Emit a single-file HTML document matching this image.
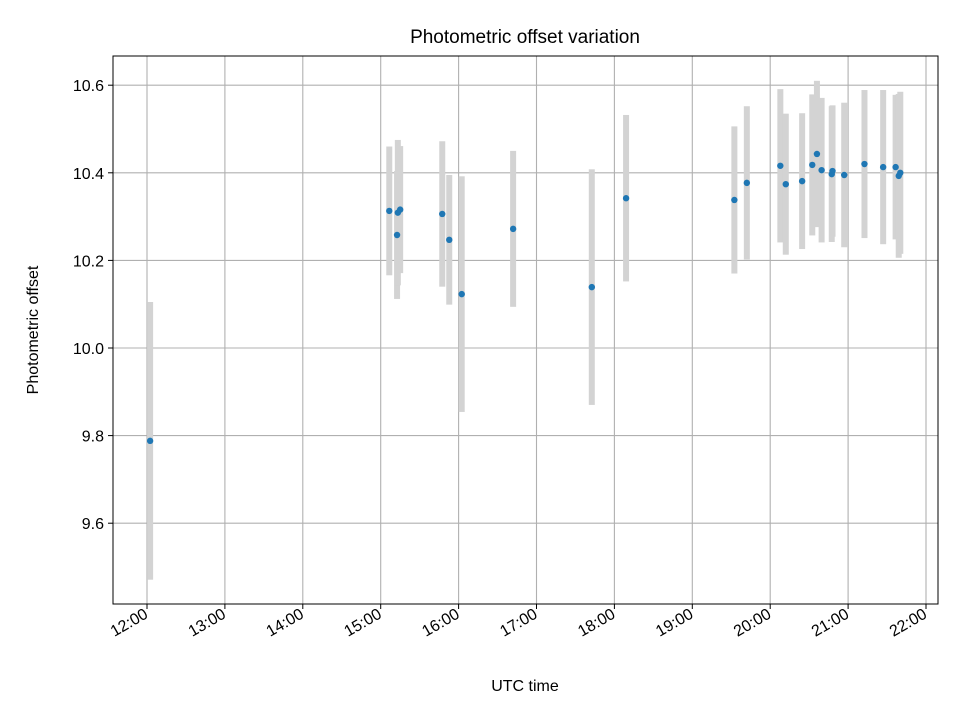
<!DOCTYPE html>
<html><head><meta charset="utf-8"><style>body{margin:0;background:#fff}svg{display:block;font-family:"Liberation Sans","DejaVu Sans",sans-serif}</style></head>
<body>
<svg id="chart" width="960" height="720" viewBox="0 0 960 720"></svg>
<script>
const times=[12.04,15.11,15.21,15.22,15.25,15.79,15.88,16.04,16.70,17.71,18.15,19.54,19.70,20.13,20.20,20.41,20.54,20.60,20.66,20.79,20.80,20.95,21.21,21.45,21.61,21.65,21.67];
const values=[9.788,10.313,10.258,10.309,10.316,10.306,10.247,10.123,10.272,10.139,10.342,10.338,10.377,10.416,10.374,10.381,10.418,10.443,10.406,10.397,10.404,10.395,10.420,10.413,10.413,10.393,10.400];
const errors=[0.317,0.147,0.146,0.166,0.145,0.166,0.148,0.269,0.178,0.269,0.190,0.168,0.175,0.175,0.161,0.155,0.161,0.167,0.165,0.155,0.150,0.165,0.169,0.176,0.165,0.187,0.185];
const yTicks=[9.6,9.8,10.0,10.2,10.4,10.6];
const yTickLabels=["9.6","9.8","10.0","10.2","10.4","10.6"];
const xTicks=[12,13,14,15,16,17,18,19,20,21,22];
const xTickLabels=["12:00","13:00","14:00","15:00","16:00","17:00","18:00","19:00","20:00","21:00","22:00"];
const L=113,R=938,T=56,B=604;
const X=h=>147+(h-12)*77.9;
const Y=v=>348-(v-10)*438;
const svg=document.getElementById('chart');
const NS='http://www.w3.org/2000/svg';
function mk(tag,attrs,parent){const e=document.createElementNS(NS,tag);for(const k in attrs)e.setAttribute(k,attrs[k]);(parent||svg).appendChild(e);return e;}
const grid=mk('g',{});


xTicks.forEach(t=>{mk('line',{x1:X(t),x2:X(t),y1:T,y2:B,stroke:'#b0b0b0','stroke-width':1.1},grid);});
yTicks.forEach(t=>{mk('line',{x1:L,x2:R,y1:Y(t),y2:Y(t),stroke:'#b0b0b0','stroke-width':1.1},grid);});
const eb=mk('g',{});


times.forEach((t,i)=>{const r=mk('rect',{x:X(t)-3,y:Y(values[i]+errors[i]),width:6,height:Y(values[i]-errors[i])-Y(values[i]+errors[i]),fill:'#d3d3d3'},eb);});
const pts=mk('g',{});


times.forEach((t,i)=>{const c=mk('circle',{cx:X(t),cy:Y(values[i]),r:3.2,fill:'#1f77b4'},pts);});
const frame=mk('rect',{x:L,y:T,width:R-L,height:B-T,fill:'none',stroke:'#000','stroke-width':1});


const xa=mk('g',{});


xTicks.forEach((t,i)=>{const x=X(t);mk('line',{x1:x,x2:x,y1:B,y2:B+5,stroke:'#000'},xa);
const ax=x+2,ay=B+13;
const tx=mk('text',{x:ax,y:ay,'font-size':16,'text-anchor':'end',transform:`rotate(-30 ${ax} ${ay})`},xa);tx.textContent=xTickLabels[i];});
const ya=mk('g',{});


yTicks.forEach((t,i)=>{const y=Y(t);mk('line',{x1:L-5,x2:L,y1:y,y2:y,stroke:'#000'},ya);
const tx=mk('text',{x:L-9,y:y+6,'font-size':16,'text-anchor':'end'},ya);tx.textContent=yTickLabels[i];});
</script>
<svg style="position:absolute;left:0;top:0" width="960" height="720">
<text x="525" y="43" font-size="19" text-anchor="middle" font-family="Liberation Sans, DejaVu Sans, sans-serif">Photometric offset variation</text>
<text x="525" y="691" font-size="16" text-anchor="middle" font-family="Liberation Sans, DejaVu Sans, sans-serif">UTC time</text>
<text x="38" y="330" font-size="16" text-anchor="middle" transform="rotate(-90 38 330)" font-family="Liberation Sans, DejaVu Sans, sans-serif">Photometric offset</text>
</svg>
</body></html>
